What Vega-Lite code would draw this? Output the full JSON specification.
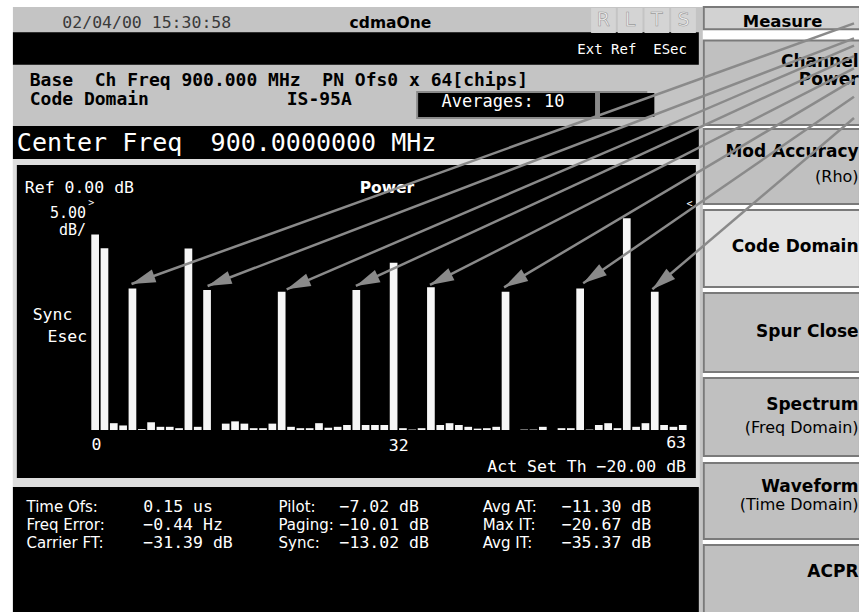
{
  "$schema": "https://vega.github.io/schema/vega-lite/v6.json",
  "width": 859,
  "height": 612,
  "padding": 0,
  "autosize": {"type": "none"},
  "background": "#ffffff",
  "config": {"view": {"stroke": null}, "axis": {"disable": true}, "legend": {"disable": true}},
  "datasets": {
    "channels": [
      {"ch": 0, "db": -7.0}, {"ch": 1, "db": -10.0}, {"ch": 2, "db": -48.5}, {"ch": 3, "db": -49.0},
      {"ch": 4, "db": -18.9}, {"ch": 5, "db": -49.8}, {"ch": 6, "db": -48.3}, {"ch": 7, "db": -49.3},
      {"ch": 8, "db": -49.3}, {"ch": 9, "db": -49.6}, {"ch": 10, "db": -10.1}, {"ch": 11, "db": -49.3},
      {"ch": 12, "db": -19.2}, {"ch": 13, "db": -50.0}, {"ch": 14, "db": -48.6}, {"ch": 15, "db": -48.1},
      {"ch": 16, "db": -48.6}, {"ch": 17, "db": -49.6}, {"ch": 18, "db": -49.6}, {"ch": 19, "db": -48.6},
      {"ch": 20, "db": -19.6}, {"ch": 21, "db": -49.3}, {"ch": 22, "db": -49.6}, {"ch": 23, "db": -49.6},
      {"ch": 24, "db": -48.5}, {"ch": 25, "db": -49.5}, {"ch": 26, "db": -49.3}, {"ch": 27, "db": -48.9},
      {"ch": 28, "db": -19.2}, {"ch": 29, "db": -48.9}, {"ch": 30, "db": -48.9}, {"ch": 31, "db": -48.9},
      {"ch": 32, "db": -13.2}, {"ch": 33, "db": -49.6}, {"ch": 34, "db": -49.9}, {"ch": 35, "db": -49.6},
      {"ch": 36, "db": -18.6}, {"ch": 37, "db": -48.9}, {"ch": 38, "db": -48.5}, {"ch": 39, "db": -48.9},
      {"ch": 40, "db": -49.3}, {"ch": 41, "db": -49.7}, {"ch": 42, "db": -49.6}, {"ch": 43, "db": -49.3},
      {"ch": 44, "db": -19.6}, {"ch": 45, "db": -50.0}, {"ch": 46, "db": -49.9}, {"ch": 47, "db": -49.9},
      {"ch": 48, "db": -49.3}, {"ch": 49, "db": -50.0}, {"ch": 50, "db": -49.6}, {"ch": 51, "db": -49.6},
      {"ch": 52, "db": -18.9}, {"ch": 53, "db": -49.9}, {"ch": 54, "db": -48.9}, {"ch": 55, "db": -48.5},
      {"ch": 56, "db": -49.6}, {"ch": 57, "db": -3.4}, {"ch": 58, "db": -49.3}, {"ch": 59, "db": -48.5},
      {"ch": 60, "db": -19.6}, {"ch": 61, "db": -48.9}, {"ch": 62, "db": -49.3}, {"ch": 63, "db": -48.9}
    ],
    "grid": [
      {"db": 0}, {"db": -5}, {"db": -10}, {"db": -15}, {"db": -20}, {"db": -25},
      {"db": -30}, {"db": -35}, {"db": -40}, {"db": -45}, {"db": -50}
    ],
    "frame": [{"ch": -0.392}, {"ch": 63.4}],
    "panels": [
      {"part": "base", "x1": -8.816, "x2": 65.147, "y1": 43.049, "y2": -90.035},
      {"part": "black", "x1": -8.816, "x2": 64.724, "y1": 37.479, "y2": 30.321},
      {"part": "edge", "x1": 34.42, "x2": 59.2, "y1": 24.58, "y2": 18.42},
      {"part": "black", "x1": 34.63, "x2": 53.598, "y1": 24.142, "y2": 18.863},
      {"part": "black", "x1": 54.128, "x2": 59.956, "y1": 24.142, "y2": 18.863},
      {"part": "black", "x1": -8.816, "x2": 64.724, "y1": 16.883, "y2": 9.613},
      {"part": "light", "x1": -8.816, "x2": 64.83, "y1": 9.613, "y2": -62.759},
      {"part": "black", "x1": -8.393, "x2": 64.406, "y1": 8.293, "y2": -60.559},
      {"part": "black", "x1": -8.816, "x2": 64.724, "y1": -62.539, "y2": -90.035},
      {"part": "rlts", "x1": 53.174, "x2": 55.823, "y1": 42.829, "y2": 37.329},
      {"part": "rlts", "x1": 56.035, "x2": 58.684, "y1": 42.829, "y2": 37.329},
      {"part": "rlts", "x1": 58.896, "x2": 61.545, "y1": 42.829, "y2": 37.329},
      {"part": "rlts", "x1": 61.757, "x2": 64.406, "y1": 42.829, "y2": 37.329}
    ],
    "buttons": [
      {"part": "measure", "x1": 65.254, "x2": 82.0, "y1": 43.049, "y2": 38.139},
      {"part": "button", "x1": 65.254, "x2": 82.0, "y1": 35.658, "y2": 17.092},
      {"part": "button", "x1": 65.254, "x2": 82.0, "y1": 16.212, "y2": -0.286},
      {"part": "selected", "x1": 65.254, "x2": 82.0, "y1": -1.606, "y2": -18.544},
      {"part": "button", "x1": 65.254, "x2": 82.0, "y1": -19.864, "y2": -37.242},
      {"part": "button", "x1": 65.254, "x2": 82.0, "y1": -38.561, "y2": -55.719},
      {"part": "button", "x1": 65.254, "x2": 82.0, "y1": -57.259, "y2": -73.977},
      {"part": "button", "x1": 65.254, "x2": 82.0, "y1": -75.297, "y2": -92.0}
    ],
    "arrows": [
      {"arrow": "a1", "ch": 3.9, "db": -17.88}, {"arrow": "a1", "ch": 81.361, "db": 39.44},
      {"arrow": "a2", "ch": 12.059, "db": -18.32}, {"arrow": "a2", "ch": 81.361, "db": 36.14},
      {"arrow": "a3", "ch": 20.536, "db": -19.05}, {"arrow": "a3", "ch": 81.361, "db": 34.56},
      {"arrow": "a4", "ch": 27.954, "db": -18.32}, {"arrow": "a4", "ch": 81.361, "db": 32.25},
      {"arrow": "a5", "ch": 35.901, "db": -18.1}, {"arrow": "a5", "ch": 81.361, "db": 29.54},
      {"arrow": "a6", "ch": 43.849, "db": -18.61}, {"arrow": "a6", "ch": 81.361, "db": 27.08},
      {"arrow": "a7", "ch": 52.326, "db": -17.73}, {"arrow": "a7", "ch": 81.361, "db": 23.32},
      {"arrow": "a8", "ch": 59.744, "db": -19.05}, {"arrow": "a8", "ch": 81.361, "db": 18.63}
    ],
    "heads": [
      {"arrow": "a1", "ch": 3.9, "db": -17.88, "angle": 250.4},
      {"arrow": "a2", "ch": 12.059, "db": -18.32, "angle": 249.3},
      {"arrow": "a3", "ch": 20.536, "db": -19.05, "angle": 247.0},
      {"arrow": "a4", "ch": 27.954, "db": -18.32, "angle": 245.5},
      {"arrow": "a5", "ch": 35.901, "db": -18.1, "angle": 243.2},
      {"arrow": "a6", "ch": 43.849, "db": -18.61, "angle": 239.6},
      {"arrow": "a7", "ch": 52.326, "db": -17.73, "angle": 235.7},
      {"arrow": "a8", "ch": 59.744, "db": -19.05, "angle": 230.0}
    ],
    "texts": [
      {"style": "stamp", "label": "02/04/00 15:30:58", "ch": -3.518, "db": 39.46},
      {"style": "brand", "label": "cdmaOne", "ch": 31.66, "db": 39.46},
      {"style": "rlts", "label": "R", "ch": 54.5, "db": 40.08},
      {"style": "rlts", "label": "L", "ch": 57.36, "db": 40.08},
      {"style": "rlts", "label": "T", "ch": 60.22, "db": 40.08},
      {"style": "rlts", "label": "S", "ch": 63.08, "db": 40.08},
      {"style": "measure", "label": "Measure", "ch": 73.7, "db": 39.82},
      {"style": "status", "label": "Ext Ref\u00a0\u00a0ESec", "ch": 63.45, "db": 33.59},
      {"style": "info", "label": "Base\u00a0\u00a0Ch Freq 900.000 MHz\u00a0\u00a0PN Ofs0 x 64[chips]", "ch": -7.015, "db": 26.88},
      {"style": "info", "label": "Code Domain", "ch": -7.015, "db": 22.59},
      {"style": "info", "label": "IS-95A", "ch": 20.54, "db": 22.59},
      {"style": "avg", "label": "Averages: 10", "ch": 37.14, "db": 22.22},
      {"style": "big", "label": "Center Freq", "ch": -8.393, "db": 13.13},
      {"style": "big", "label": "900.0000000 MHz", "ch": 12.38, "db": 13.13},
      {"style": "chartL", "label": "Ref 0.00 dB", "ch": -7.545, "db": 3.3},
      {"style": "chartL", "label": "Sync", "ch": -6.697, "db": -24.7},
      {"style": "chartL", "label": "Esec", "ch": -5.108, "db": -29.48},
      {"style": "scale", "label": "5.00", "ch": -0.975, "db": -2.3},
      {"style": "scale", "label": "dB/", "ch": -0.975, "db": -6.1},
      {"style": "chartR", "label": "63", "ch": 63.35, "db": -52.93},
      {"style": "chartR", "label": "Act Set Th −20.00 dB", "ch": 63.35, "db": -58.07},
      {"style": "chartC", "label": "0", "ch": 0.14, "db": -53.3},
      {"style": "chartC", "label": "32", "ch": 32.54, "db": -53.52},
      {"style": "tick", "label": ">", "ch": -0.42, "db": -0.1},
      {"style": "tick", "label": "<", "ch": 63.72, "db": -0.18},
      {"style": "power", "label": "Power", "ch": 31.29, "db": 3.23},
      {"style": "lab", "label": "Time Ofs:", "ch": -7.365, "db": -66.87},
      {"style": "lab", "label": "Freq Error:", "ch": -7.365, "db": -70.9},
      {"style": "lab", "label": "Carrier FT:", "ch": -7.365, "db": -74.92},
      {"style": "val", "label": "0.15 us", "ch": 5.171, "db": -66.87},
      {"style": "val", "label": "−0.44 Hz", "ch": 5.171, "db": -70.9},
      {"style": "val", "label": "−31.39 dB", "ch": 5.171, "db": -74.92},
      {"style": "lab", "label": "Pilot:", "ch": 19.657, "db": -66.87},
      {"style": "lab", "label": "Paging:", "ch": 19.657, "db": -70.9},
      {"style": "lab", "label": "Sync:", "ch": 19.657, "db": -74.92},
      {"style": "val", "label": "−7.02 dB", "ch": 26.2, "db": -66.87},
      {"style": "val", "label": "−10.01 dB", "ch": 26.2, "db": -70.9},
      {"style": "val", "label": "−13.02 dB", "ch": 26.2, "db": -74.92},
      {"style": "lab", "label": "Avg AT:", "ch": 41.549, "db": -66.87},
      {"style": "lab", "label": "Max IT:", "ch": 41.549, "db": -70.9},
      {"style": "lab", "label": "Avg IT:", "ch": 41.549, "db": -74.92},
      {"style": "val", "label": "−11.30 dB", "ch": 50.026, "db": -66.87},
      {"style": "val", "label": "−20.67 dB", "ch": 50.026, "db": -70.9},
      {"style": "val", "label": "−35.37 dB", "ch": 50.026, "db": -74.92},
      {"style": "btn", "label": "Channel", "ch": 81.85, "db": 31.02},
      {"style": "btn", "label": "Power", "ch": 81.85, "db": 26.99},
      {"style": "btn", "label": "Mod Accuracy", "ch": 81.85, "db": 11.22},
      {"style": "btnsub", "label": "(Rho)", "ch": 81.85, "db": 5.72},
      {"style": "btn", "label": "Code Domain", "ch": 81.85, "db": -9.68},
      {"style": "btn", "label": "Spur Close", "ch": 81.85, "db": -28.38},
      {"style": "btn", "label": "Spectrum", "ch": 81.85, "db": -44.5},
      {"style": "btnsub", "label": "(Freq Domain)", "ch": 81.85, "db": -49.56},
      {"style": "btn", "label": "Waveform", "ch": 81.85, "db": -62.47},
      {"style": "btnsub", "label": "(Time Domain)", "ch": 81.85, "db": -66.5},
      {"style": "btn", "label": "ACPR", "ch": 81.85, "db": -81.17}
    ]
  },
  "encoding": {
    "x": {"field": "ch", "type": "quantitative", "axis": null, "scale": {"domain": [-9.664, 81.361], "nice": false, "zero": false}},
    "y": {"field": "db", "type": "quantitative", "axis": null, "scale": {"domain": [-90.035, 44.589], "nice": false, "zero": false}}
  },
  "layer": [
    {
      "data": {"name": "panels"},
      "mark": {"type": "rect"},
      "encoding": {
        "x": {"field": "x1", "type": "quantitative", "axis": null, "scale": {"domain": [-9.664, 81.361], "nice": false, "zero": false}},
        "x2": {"field": "x2"},
        "y": {"field": "y1", "type": "quantitative", "axis": null, "scale": {"domain": [-90.035, 44.589], "nice": false, "zero": false}},
        "y2": {"field": "y2"},
        "color": {"field": "part", "type": "nominal", "legend": null, "scale": {"domain": ["base", "black", "light", "rlts", "measure", "button", "selected", "edge"], "range": ["#c4c4c4", "#000000", "#dedede", "#d4d4d4", "#d2d2d2", "#c0c0c0", "#e4e4e4", "#8a8a8a"]}}
      }
    },
    {
      "data": {"name": "buttons"},
      "mark": {"type": "rect", "stroke": "#7a7a7a", "strokeWidth": 2},
      "encoding": {
        "x": {"field": "x1", "type": "quantitative", "axis": null, "scale": {"domain": [-9.664, 81.361], "nice": false, "zero": false}},
        "x2": {"field": "x2"},
        "y": {"field": "y1", "type": "quantitative", "axis": null, "scale": {"domain": [-90.035, 44.589], "nice": false, "zero": false}},
        "y2": {"field": "y2"},
        "color": {"field": "part", "type": "nominal", "legend": null, "scale": {"domain": ["base", "black", "light", "rlts", "measure", "button", "selected", "edge"], "range": ["#c4c4c4", "#000000", "#dedede", "#d4d4d4", "#d2d2d2", "#c0c0c0", "#e4e4e4", "#8a8a8a"]}}
      }
    },
    {
      "data": {"name": "grid"},
      "mark": {"type": "rule", "color": "#858585", "strokeWidth": 1},
      "encoding": {
        "x": {"datum": -0.392, "type": "quantitative", "scale": {"domain": [-9.664, 81.361], "nice": false, "zero": false}},
        "x2": {"datum": 63.4}
      }
    },
    {
      "data": {"name": "frame"},
      "mark": {"type": "rule", "color": "#858585", "strokeWidth": 1},
      "encoding": {
        "y": {"datum": 0, "type": "quantitative", "scale": {"domain": [-90.035, 44.589], "nice": false, "zero": false}},
        "y2": {"datum": -50}
      }
    },
    {
      "data": {"name": "channels"},
      "mark": {"type": "bar", "width": 7.7, "color": "#f6f6f6"},
      "encoding": {
        "y2": {"datum": -50}
      }
    },
    {
      "data": {"name": "texts"},
      "transform": [{"filter": "datum.style === 'stamp'"}],
      "mark": {"type": "text", "align": "left", "baseline": "middle", "font": "DejaVu Sans Mono", "fontSize": 16.5, "color": "#3a3a3a"},
      "encoding": {"text": {"field": "label"}}
    },
    {
      "data": {"name": "texts"},
      "transform": [{"filter": "datum.style === 'brand'"}],
      "mark": {"type": "text", "align": "center", "baseline": "middle", "font": "DejaVu Sans", "fontWeight": "bold", "fontSize": 15.5, "color": "#000000"},
      "encoding": {"text": {"field": "label"}}
    },
    {
      "data": {"name": "texts"},
      "transform": [{"filter": "datum.style === 'rlts'"}],
      "mark": {"type": "text", "align": "center", "baseline": "middle", "font": "DejaVu Sans", "fontSize": 19, "color": "#f2f2f2", "stroke": "#9a9a9a", "strokeWidth": 0.6},
      "encoding": {"text": {"field": "label"}}
    },
    {
      "data": {"name": "texts"},
      "transform": [{"filter": "datum.style === 'measure'"}],
      "mark": {"type": "text", "align": "center", "baseline": "middle", "font": "DejaVu Sans", "fontWeight": "bold", "fontSize": 16.5, "color": "#000000"},
      "encoding": {"text": {"field": "label"}}
    },
    {
      "data": {"name": "texts"},
      "transform": [{"filter": "datum.style === 'status'"}],
      "mark": {"type": "text", "align": "right", "baseline": "middle", "font": "DejaVu Sans Mono", "fontSize": 14, "color": "#ffffff"},
      "encoding": {"text": {"field": "label"}}
    },
    {
      "data": {"name": "texts"},
      "transform": [{"filter": "datum.style === 'info'"}],
      "mark": {"type": "text", "align": "left", "baseline": "middle", "font": "DejaVu Sans Mono", "fontWeight": "bold", "fontSize": 18, "color": "#000000"},
      "encoding": {"text": {"field": "label"}}
    },
    {
      "data": {"name": "texts"},
      "transform": [{"filter": "datum.style === 'avg'"}],
      "mark": {"type": "text", "align": "left", "baseline": "middle", "font": "DejaVu Sans Mono", "fontSize": 17, "color": "#ffffff"},
      "encoding": {"text": {"field": "label"}}
    },
    {
      "data": {"name": "texts"},
      "transform": [{"filter": "datum.style === 'big'"}],
      "mark": {"type": "text", "align": "left", "baseline": "middle", "font": "DejaVu Sans Mono", "fontSize": 25, "color": "#ffffff"},
      "encoding": {"text": {"field": "label"}}
    },
    {
      "data": {"name": "texts"},
      "transform": [{"filter": "datum.style === 'chartL'"}],
      "mark": {"type": "text", "align": "left", "baseline": "middle", "font": "DejaVu Sans Mono", "fontSize": 16.5, "color": "#ffffff"},
      "encoding": {"text": {"field": "label"}}
    },
    {
      "data": {"name": "texts"},
      "transform": [{"filter": "datum.style === 'scale'"}],
      "mark": {"type": "text", "align": "right", "baseline": "middle", "font": "DejaVu Sans Mono", "fontSize": 15, "color": "#ffffff"},
      "encoding": {"text": {"field": "label"}}
    },
    {
      "data": {"name": "texts"},
      "transform": [{"filter": "datum.style === 'chartR'"}],
      "mark": {"type": "text", "align": "right", "baseline": "middle", "font": "DejaVu Sans Mono", "fontSize": 16.5, "color": "#ffffff"},
      "encoding": {"text": {"field": "label"}}
    },
    {
      "data": {"name": "texts"},
      "transform": [{"filter": "datum.style === 'chartC'"}],
      "mark": {"type": "text", "align": "center", "baseline": "middle", "font": "DejaVu Sans Mono", "fontSize": 16.5, "color": "#ffffff"},
      "encoding": {"text": {"field": "label"}}
    },
    {
      "data": {"name": "texts"},
      "transform": [{"filter": "datum.style === 'tick'"}],
      "mark": {"type": "text", "align": "center", "baseline": "middle", "font": "DejaVu Sans Mono", "fontSize": 10, "color": "#ffffff"},
      "encoding": {"text": {"field": "label"}}
    },
    {
      "data": {"name": "texts"},
      "transform": [{"filter": "datum.style === 'power'"}],
      "mark": {"type": "text", "align": "center", "baseline": "middle", "font": "DejaVu Sans", "fontWeight": "bold", "fontSize": 15.5, "color": "#ffffff"},
      "encoding": {"text": {"field": "label"}}
    },
    {
      "data": {"name": "texts"},
      "transform": [{"filter": "datum.style === 'lab'"}],
      "mark": {"type": "text", "align": "left", "baseline": "middle", "font": "DejaVu Sans", "fontSize": 15, "color": "#ffffff"},
      "encoding": {"text": {"field": "label"}}
    },
    {
      "data": {"name": "texts"},
      "transform": [{"filter": "datum.style === 'val'"}],
      "mark": {"type": "text", "align": "left", "baseline": "middle", "font": "DejaVu Sans Mono", "fontSize": 16.5, "color": "#ffffff"},
      "encoding": {"text": {"field": "label"}}
    },
    {
      "data": {"name": "texts"},
      "transform": [{"filter": "datum.style === 'btn'"}],
      "mark": {"type": "text", "align": "right", "baseline": "middle", "font": "DejaVu Sans", "fontWeight": "bold", "fontSize": 17, "color": "#000000"},
      "encoding": {"text": {"field": "label"}}
    },
    {
      "data": {"name": "texts"},
      "transform": [{"filter": "datum.style === 'btnsub'"}],
      "mark": {"type": "text", "align": "right", "baseline": "middle", "font": "DejaVu Sans", "fontSize": 16, "color": "#000000"},
      "encoding": {"text": {"field": "label"}}
    },
    {
      "data": {"name": "arrows"},
      "mark": {"type": "line", "color": "#8a8a8a", "strokeWidth": 2.5},
      "encoding": {"detail": {"field": "arrow", "type": "nominal"}}
    },
    {
      "data": {"name": "heads"},
      "mark": {"type": "point", "shape": "M0,0L-0.28,1L0.28,1Z", "size": 2304, "filled": true, "color": "#8a8a8a", "opacity": 1, "strokeWidth": 0},
      "encoding": {"angle": {"field": "angle", "type": "quantitative", "scale": null}}
    }
  ]
}
